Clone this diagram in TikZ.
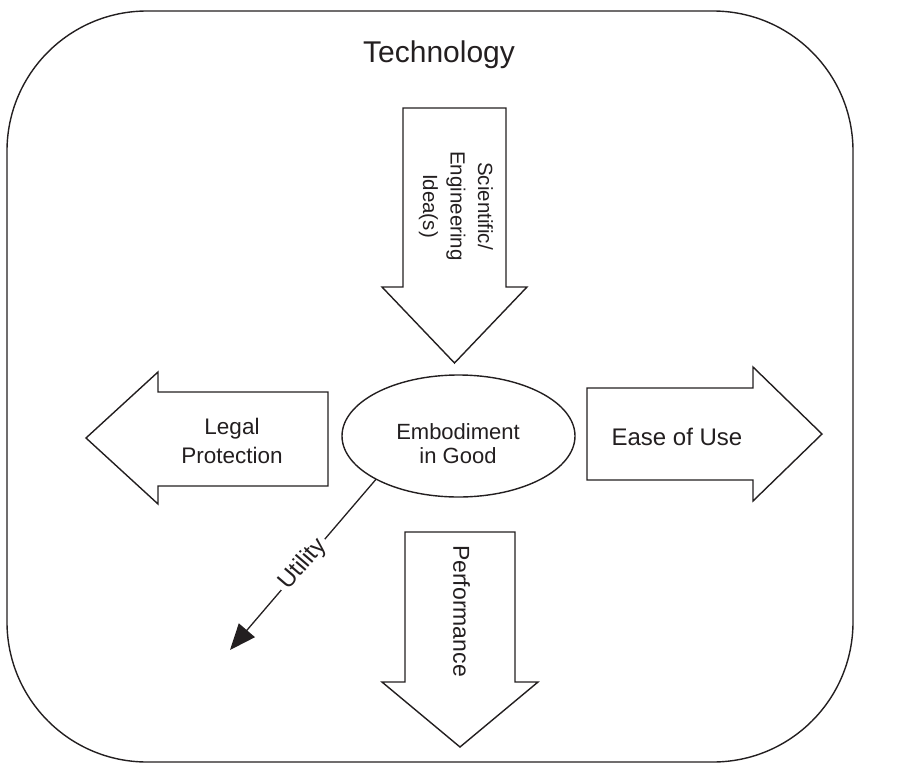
\documentclass[tikz,border=0pt]{standalone}
\usepackage{fontspec}
\setmainfont{Liberation Sans}
\usetikzlibrary{shapes.geometric,arrows.meta}
\definecolor{ink}{RGB}{35,31,32}
\begin{document}
\begin{tikzpicture}[x=1pt,y=-1pt,
  outline/.style={draw=ink,line width=1.4pt,line join=miter},
  blockarrow/.style={draw=ink,line width=1.4pt,fill=white,line join=miter},
  lbl/.style={text=ink,inner sep=0pt,align=center},
  connector/.style={draw=ink,line width=1.3pt,-{Triangle[length=26pt,width=21pt]}}]
  \useasboundingbox (0,0) rectangle (922,777);

  % surrounding "Technology" frame
  \draw[outline,rounded corners=140pt] (7,11) rectangle (853,762);
  \node[lbl,anchor=base,font=\fontsize{30}{36}\selectfont] (tech) at (439,62) {Technology};

  % inflow arrow from above
  \draw[blockarrow] (403,108) -- (506,108) -- (506,287) -- (527,287) -- (454.5,363)
    -- (382,287) -- (403,287) -- cycle;
  \node[lbl,rotate=-90,font=\fontsize{20.5}{27.5}\selectfont] (idea) at (456,206)
    {Scientific/\\Engineering\\Idea(s)};

  % outflow arrows
  \draw[blockarrow] (328,392) -- (158,392) -- (158,372) -- (86,438) -- (158,504)
    -- (158,486) -- (328,486) -- cycle;
  \node[lbl,font=\fontsize{22.5}{28.5}\selectfont] (legal) at (232,441) {Legal\\Protection};

  \draw[blockarrow] (587,388) -- (753,388) -- (753,367) -- (822,434) -- (753,501)
    -- (753,480) -- (587,480) -- cycle;
  \node[lbl,font=\fontsize{24}{29}\selectfont] (ease) at (677,437) {Ease of Use};

  \draw[blockarrow] (405,532) -- (515,532) -- (515,682) -- (538,682) -- (460,747)
    -- (382,682) -- (405,682) -- cycle;
  \node[lbl,rotate=-90,font=\fontsize{23}{28}\selectfont] (perf) at (461.5,611) {Performance};

  % central good
  \node[ellipse,draw=ink,line width=1.4pt,fill=white,minimum width=233pt,
        minimum height=122pt,inner sep=0pt,outer sep=0pt] (em) at (458.5,436) {};
  \node[lbl,font=\fontsize{22}{23.5}\selectfont] (emtxt) at (458,443.5) {Embodiment\\in Good};

  % utility connector
  \coordinate (utip) at (230,650);
  \draw[connector] (em.south west) -- node[sloped,fill=white,inner sep=4pt,text=ink,
    font=\fontsize{24}{28}\selectfont] (util) {Utility} (utip);
\end{tikzpicture}
\end{document}
